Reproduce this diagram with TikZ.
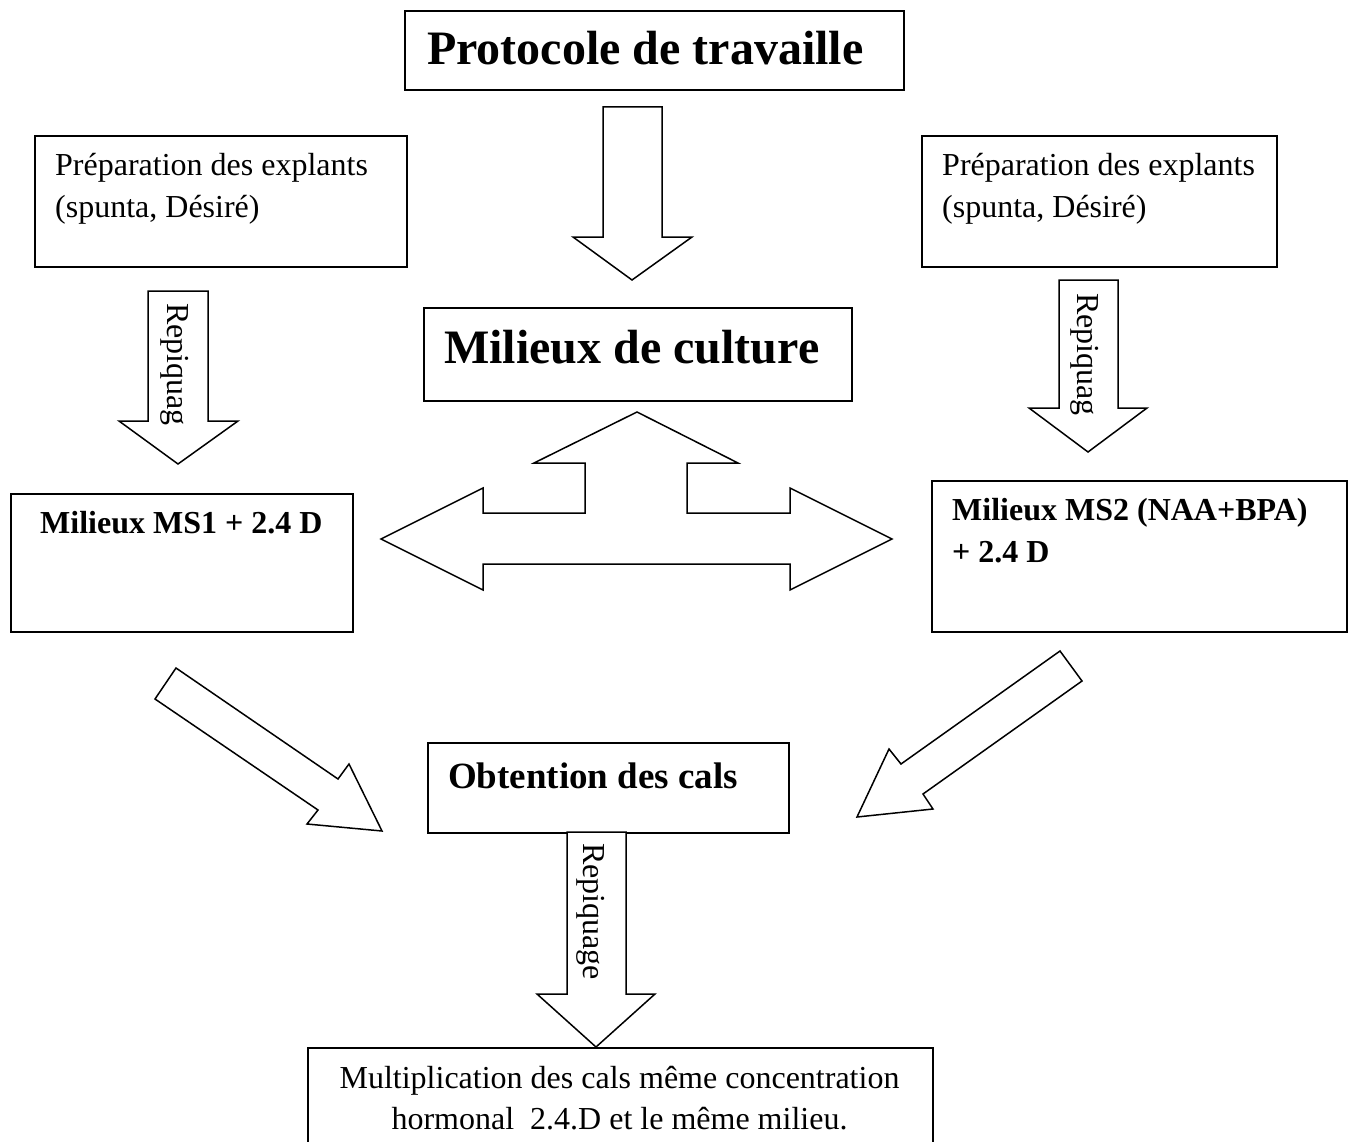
\documentclass[tikz,border=0pt]{standalone}
\usepackage{fontspec}
\setmainfont{Liberation Serif}
\begin{document}
\begin{tikzpicture}[x=1pt,y=-1pt,
  box/.style={draw, line width=1.6pt, inner sep=0pt, anchor=north west},
  blk/.style={draw, line width=1.5pt, fill=white, line join=miter},
  txt/.style={anchor=base west, inner sep=0pt, font=\fontsize{32}{38}\selectfont},
  btxt/.style={anchor=base west, inner sep=0pt, font=\fontsize{32}{38}\selectfont\bfseries},
  big/.style={anchor=base west, inner sep=0pt, font=\fontsize{48}{56}\selectfont\bfseries},
  rtxt/.style={rotate=-90, anchor=base west, inner sep=0pt, font=\fontsize{32}{38}\selectfont}]
\useasboundingbox (0,0) rectangle (1354,1142);
\clip (0,0) rectangle (1354,1142);
\fill[white] (0,0) rectangle (1354,1142);

% boxes
\node[box, minimum width=499pt, minimum height=79pt] (title) at (404,10) {};
\node[box, minimum width=372pt, minimum height=131pt] (prepL) at (34,135) {};
\node[box, minimum width=355pt, minimum height=131pt] (prepR) at (921,135) {};
\node[box, minimum width=428pt, minimum height=93pt] (culture) at (423,307) {};
\node[box, minimum width=342pt, minimum height=138pt] (ms1) at (10,493) {};
\node[box, minimum width=415pt, minimum height=151pt] (ms2) at (931,480) {};
\node[box, minimum width=361pt, minimum height=90pt] (obt) at (427,742) {};
\node[box, minimum width=625pt, minimum height=120pt] (mult) at (307,1047) {};

% texts
\node[big] (tTitle) at (427,65) {Protocole de travaille};
\node[txt] (tPL1) at (55,176) {Préparation des explants};
\node[txt] (tPL2) at (55,218) {(spunta, Désiré)};
\node[txt] (tPR1) at (942,176) {Préparation des explants};
\node[txt] (tPR2) at (942,218) {(spunta, Désiré)};
\node[big] (tCult) at (444,363) {Milieux de culture};
\node[btxt] (tMS1) at (40,533) {Milieux MS1 + 2.4 D};
\node[btxt] (tMS2a) at (952,520) {Milieux MS2 (NAA+BPA)};
\node[btxt] (tMS2b) at (952,562) {+ 2.4 D};
\node[anchor=base west, inner sep=0pt, font=\fontsize{37}{44}\selectfont\bfseries] (tObt) at (448,788) {Obtention des cals};
\node[anchor=base, inner sep=0pt, font=\fontsize{32}{38}\selectfont] (tM1) at (619.5,1088) {Multiplication des cals même concentration};
\node[anchor=base, inner sep=0pt, font=\fontsize{32}{38}\selectfont] (tM2) at (619.5,1129) {hormonal\ \ 2.4.D et le même milieu.};

% block arrows
\draw[blk] (603,107) -- (662,107) -- (662,237) -- (692,237) -- (632,280) -- (573,237) -- (603,237) -- cycle;
\draw[blk] (148,291) -- (208,291) -- (208,421) -- (238,421) -- (178,464) -- (119,421) -- (148,421) -- cycle;
\draw[blk] (1059,280) -- (1118,280) -- (1118,408) -- (1147,408) -- (1088,452) -- (1029,408) -- (1059,408) -- cycle;
\draw[blk] (567,832) -- (626,832) -- (626,994) -- (655,994) -- (596,1047) -- (537,994) -- (567,994) -- cycle;
\draw[blk] (381,539) -- (483,488) -- (483,513) -- (585,513) -- (585,463) -- (534,463) -- (637,412)
  -- (738,463) -- (687,463) -- (687,513) -- (790,513) -- (790,488) -- (892,539) -- (790,590)
  -- (790,564) -- (483,564) -- (483,590) -- cycle;
\draw[blk] (176,668) -- (338,779) -- (349,764) -- (382,831) -- (307,824) -- (318,810) -- (155,699) -- cycle;
\draw[blk] (1060,651) -- (1082,681) -- (923,794) -- (933,809) -- (857,817) -- (889,749) -- (901,764) -- cycle;

% rotated labels
\node[rtxt] (rL) at (167,303) {Repiquag};
\node[rtxt] (rR) at (1077,293) {Repiquag};
\node[rtxt] (rB) at (583,843) {Repiquage};
\end{tikzpicture}
\end{document}
